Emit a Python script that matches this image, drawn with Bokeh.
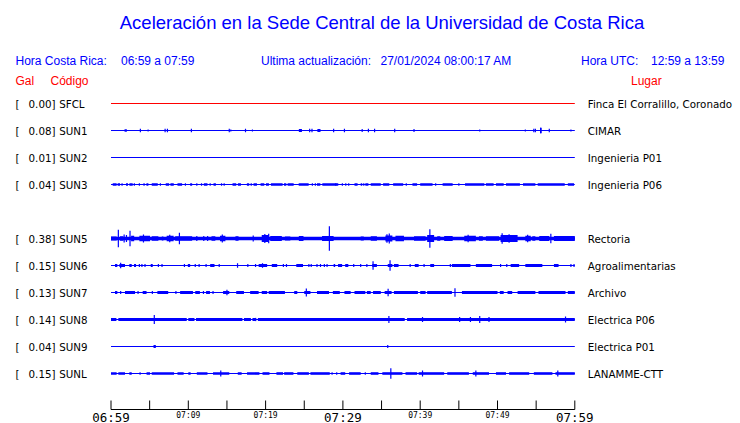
from bokeh.plotting import figure
from bokeh.models import Range1d
from bokeh.core.properties import value
from bokeh.embed import file_html
from bokeh.resources import INLINE

# ------------------------------------------------------------------ data
TITLE = "Aceleración en la Sede Central de la Universidad de Costa Rica"
HORA_CR = "06:59 a 07:59"
ACTUALIZACION = "27/01/2024 08:00:17 AM"
HORA_UTC = "12:59 a 13:59"

codes = ["SFCL", "SUN1", "SUN2", "SUN3", "SUN5", "SUN6", "SUN7", "SUN8", "SUN9", "SUNL"]
gal = [0.00, 0.08, 0.01, 0.04, 0.38, 0.15, 0.13, 0.14, 0.04, 0.15]
places = ["Finca El Corralillo, Coronado", "CIMAR", "Ingenieria P01", "Ingenieria P06",
          "Rectoria", "Agroalimentarias", "Archivo", "Electrica P06", "Electrica P01",
          "LANAMME-CTT"]
slots = [0, 1, 2, 3, 5, 6, 7, 8, 9, 10]          # row slot (SUN4 absent)
trace_colors = ["#ff0000"] + ["#0000ff"] * 9

tick_minutes = [0, 5, 10, 15, 20, 25, 30, 35, 40, 45, 50, 55, 60]
major_ticks = [0, 30, 60]
major_labels = ["06:59", "07:29", "07:59"]
minor_ticks = [10, 20, 40, 50]
minor_labels = ["07:09", "07:19", "07:39", "07:49"]

# bursts: (start minute, end minute, half amplitude); spikes: (minute, half amplitude)
sfcl_bursts = []
sfcl_spikes = []

sun1_bursts = [(1.75, 2.05, 1.3), (24.3, 24.7, 1.5), (26.7, 27.1, 1.5), (32.4, 32.6, 1.3),
               (39.1, 39.3, 1.3), (55.5, 55.7, 2.5)]
sun1_spikes = [(3.8, 1.7), (4.8, 1.0), (7.0, 1.7), (7.3, 1.7), (10.4, 1.7), (15.3, 1.7),
               (15.5, 1.0), (17.4, 1.7), (18.3, 1.0), (25.7, 1.7), (26.0, 1.7), (28.8, 1.7),
               (30.2, 1.7), (33.3, 1.7), (34.1, 1.7), (36.7, 1.7), (47.7, 1.0), (53.6, 1.0),
               (54.7, 1.7), (54.9, 1.7), (55.6, 3.0), (56.7, 1.7), (59.5, 1.0)]

sun2_bursts = []
sun2_spikes = []

sun3_bursts = [(0.22, 0.73, 1.3), (0.86, 1.17, 1.3), (1.94, 2.20, 1.3), (2.38, 2.81, 1.3),
               (4.19, 4.36, 1.3), (4.58, 4.84, 1.3), (5.27, 6.05, 1.3), (7.08, 7.52, 1.3),
               (7.69, 8.12, 1.3), (8.60, 9.20, 1.3), (10.24, 10.50, 1.3), (12.01, 12.48, 1.3),
               (13.26, 13.57, 1.3), (15.72, 16.20, 1.3), (16.42, 16.81, 1.3), (17.58, 17.88, 1.3),
               (18.44, 18.88, 1.3), (19.35, 19.83, 1.3), (20.05, 20.43, 1.3), (20.69, 22.20, 1.3),
               (22.38, 22.68, 1.3), (22.85, 23.63, 1.3), (24.28, 25.57, 1.3), (26.65, 27.08, 1.3),
               (27.34, 29.16, 1.3), (29.0, 29.4, 1.3), (31.5, 31.9, 1.3), (32.3, 32.5, 1.3),
               (32.9, 33.3, 1.3), (33.6, 34.9, 1.3), (35.2, 36.0, 1.3), (36.5, 37.8, 1.3),
               (39.0, 39.6, 1.3), (40.0, 41.6, 1.3), (42.9, 44.2, 1.3), (45.8, 48.3, 1.3),
               (48.5, 49.5, 1.3), (49.8, 50.8, 1.3), (51.1, 52.9, 1.3), (53.3, 54.9, 1.3),
               (55.2, 58.7, 1.3), (59.1, 59.9, 1.3)]
sun3_spikes = [(1.43, 1.3), (3.02, 1.3), (3.67, 1.3), (6.39, 1.3), (9.63, 1.3), (11.10, 1.3),
               (11.71, 1.3), (12.83, 1.3), (14.30, 1.3), (14.64, 1.3), (18.14, 1.3), (26.05, 1.3),
               (26.44, 1.3), (29.93, 1.3), (30.37, 1.3), (30.75, 1.3), (32.7, 1.3), (38.2, 1.3),
               (42.0, 1.3), (45.0, 1.3)]

sun5_bursts = [(0.0, 60.0, 1.7), (0.0, 0.73, 2.0), (1.17, 1.6, 2.2), (2.6, 3.0, 2.8),
               (3.67, 5.05, 2.8), (5.27, 6.13, 2.2), (6.57, 6.78, 2.0), (7.2, 8.1, 2.8),
               (8.3, 10.5, 2.2), (13.0, 13.5, 2.2), (14.1, 14.8, 2.8), (16.1, 16.5, 2.2),
               (19.5, 20.4, 3.4), (20.6, 22.1, 2.5), (22.5, 23.2, 2.0), (24.3, 24.9, 2.5),
               (27.3, 28.8, 2.5), (32.3, 32.7, 2.0), (33.6, 34.4, 2.2), (35.5, 36.4, 3.1),
               (36.8, 37.9, 2.8), (39.2, 40.7, 2.2), (40.9, 41.8, 3.4), (42.2, 42.6, 2.2),
               (43.1, 44.2, 2.5), (45.7, 47.2, 2.8), (47.6, 48.1, 2.2), (48.5, 50.2, 2.2),
               (50.4, 52.6, 3.4), (53.6, 54.3, 2.8), (54.5, 54.9, 2.2), (55.4, 56.7, 2.5),
               (57.3, 60.0, 2.5)]
sun5_spikes = [(0.95, 8.8), (2.46, 7.7), (1.7, 4.0), (2.0, 3.5), (8.85, 5.7), (11.1, 2.5),
               (12.0, 2.5), (12.5, 2.5), (18.4, 3.0), (20.4, 4.7), (28.25, 12.3), (36.0, 5.0),
               (41.25, 9.3), (50.6, 5.3), (56.9, 4.7), (4.2, 4.0), (7.6, 3.8), (14.4, 4.0),
               (19.9, 4.5), (35.7, 4.2), (46.2, 3.8), (51.5, 4.3), (53.9, 3.8)]

sun6_bursts = [(0.52, 0.82, 1.5), (1.08, 1.81, 1.5), (2.37, 2.68, 1.5), (2.98, 3.24, 1.5),
               (5.14, 5.4, 1.5), (9.94, 10.24, 1.5), (12.83, 13.39, 1.5), (19.1, 20.2, 1.5),
               (20.8, 21.5, 1.5), (23.97, 24.84, 1.5), (28.8, 29.0, 1.5), (29.5, 29.9, 1.5),
               (30.3, 30.7, 1.5), (33.8, 34.4, 1.5), (35.8, 36.4, 1.5), (36.6, 37.2, 1.5),
               (39.3, 39.8, 1.5), (41.3, 41.8, 1.5), (44.1, 46.5, 1.5), (47.2, 49.3, 1.5),
               (51.7, 52.8, 1.5), (53.6, 55.8, 1.5), (57.3, 57.9, 1.5)]
sun6_spikes = [(3.67, 1.5), (4.0, 1.5), (4.4, 1.5), (6.13, 1.5), (6.6, 1.5), (9.5, 1.5),
               (10.9, 1.5), (11.4, 1.5), (12.3, 1.5), (14.0, 1.5), (17.7, 1.5), (18.7, 1.5),
               (22.3, 1.5), (22.7, 1.5), (25.6, 1.5), (25.9, 1.5), (26.65, 1.5), (27.1, 1.5),
               (27.6, 1.5), (27.95, 1.5), (29.45, 1.5), (31.4, 1.5), (32.3, 1.5), (33.1, 1.5),
               (38.7, 1.5), (40.5, 1.5), (43.9, 1.5), (50.4, 1.5), (51.2, 1.5), (59.5, 1.5),
               (59.9, 1.5), (1.25, 2.7), (16.37, 2.3), (19.6, 2.3), (33.9, 4.3), (36.1, 5.3)]

sun7_bursts = [(0.52, 0.82, 1.5), (1.81, 3.11, 1.5), (4.1, 4.6, 1.5), (6.0, 7.4, 1.5),
               (8.94, 10.6, 1.5), (10.9, 11.5, 1.5), (12.3, 12.8, 1.5), (14.5, 15.3, 1.5),
               (16.2, 17.2, 1.5), (18.0, 19.1, 1.5), (19.5, 20.2, 1.5), (20.4, 22.5, 1.5),
               (23.7, 24.1, 1.5), (25.0, 25.8, 1.5), (26.65, 28.2, 1.5), (28.7, 29.6, 1.5),
               (30.2, 31.0, 1.5), (31.5, 32.9, 1.5), (33.1, 33.6, 1.5), (33.9, 34.9, 1.5),
               (35.4, 36.3, 1.5), (36.6, 39.7, 1.5), (40.0, 40.7, 1.5), (40.9, 44.1, 1.5),
               (45.4, 50.0, 1.5), (50.3, 50.8, 1.5), (51.3, 51.9, 1.5), (52.6, 54.9, 1.5),
               (55.3, 58.8, 1.5), (59.1, 60.0, 1.5)]
sun7_spikes = [(1.25, 1.5), (3.5, 1.5), (5.35, 1.5), (8.4, 1.5), (11.96, 1.5), (13.2, 1.5),
               (15.0, 2.7), (25.27, 4.0), (35.85, 3.7), (44.5, 4.2)]

sun8_bursts = [(0.0, 0.7, 1.6), (0.95, 9.8, 1.6), (10.0, 10.8, 1.6), (11.0, 17.0, 1.6),
               (17.2, 18.1, 1.6), (18.3, 18.8, 1.6), (19.0, 38.0, 1.6), (38.3, 60.0, 1.6)]
sun8_spikes = [(5.6, 4.5), (35.95, 3.5), (40.3, 2.5), (45.1, 2.5), (46.5, 2.5), (47.7, 3.5),
               (48.9, 2.5), (58.8, 3.0)]

sun9_bursts = [(5.5, 5.8, 1.5)]
sun9_spikes = [(35.8, 1.5)]

sunl_bursts = [(0.0, 0.73, 1.3), (0.95, 1.81, 1.3), (2.37, 2.68, 1.3), (4.6, 5.05, 1.3),
               (5.27, 8.16, 1.3), (8.6, 9.4, 1.3), (10.0, 10.3, 1.3), (11.1, 12.48, 1.3),
               (13.2, 15.3, 1.3), (16.4, 16.9, 1.3), (17.6, 19.2, 1.3), (19.6, 20.5, 1.3),
               (21.4, 22.25, 1.3), (22.4, 23.6, 1.3), (24.1, 25.6, 1.3), (25.8, 28.3, 1.3),
               (29.7, 30.3, 1.3), (30.8, 32.3, 1.3), (33.6, 34.6, 1.3), (35.1, 37.7, 1.3),
               (38.1, 39.6, 1.3), (39.8, 43.1, 1.3), (43.5, 46.3, 1.3), (46.8, 48.9, 1.3),
               (49.8, 51.1, 1.3), (51.5, 54.1, 1.3), (54.7, 57.1, 1.3), (57.5, 60.0, 1.3)]
sunl_spikes = [(3.76, 1.3), (28.6, 1.3), (29.2, 1.3), (32.9, 1.3), (14.2, 3.0), (36.2, 5.3),
               (40.3, 3.0), (47.2, 3.0), (57.8, 3.0)]

station_bursts = [sfcl_bursts, sun1_bursts, sun2_bursts, sun3_bursts, sun5_bursts,
                  sun6_bursts, sun7_bursts, sun8_bursts, sun9_bursts, sunl_bursts]
station_spikes = [sfcl_spikes, sun1_spikes, sun2_spikes, sun3_spikes, sun5_spikes,
                  sun6_spikes, sun7_spikes, sun8_spikes, sun9_spikes, sunl_spikes]

# ------------------------------------------------------------------ layout
W, H = 740, 423
X0_PX, X1_PX = 110.5, 574.3      # canvas px of minute 0 and minute 60
ROW0, ROW_STEP = 103, 27         # canvas y of first row, row spacing
AXIS_Y, TICK_LEN = 409, 9
PPM = (X1_PX - X0_PX) / 60.0


def px2x(px):
    return (px - X0_PX) / PPM


p = figure(width=W, height=H, output_backend="svg", toolbar_location=None,
           x_range=Range1d(px2x(0), px2x(W)), y_range=Range1d(H, 0),
           x_axis_location=None, y_axis_location=None, min_border=0)
p.grid.visible = False
p.outline_line_color = None
p.background_fill_color = "white"
p.border_fill_color = "white"

BLUE = "#0000ff"
RED = "#ff0000"
SANS = value("Liberation Sans")
DJ = value("DejaVu Sans")
MONO = value("DejaVu Sans Mono")

# title and header
p.text(x=[px2x(381.5)], y=[21.5], text=[TITLE], text_align="center",
       text_baseline="middle", text_font=SANS, text_font_size=value("18.5px"),
       text_color=BLUE)
p.text(x=[px2x(15), px2x(120.5), px2x(260.5), px2x(380), px2x(580.5), px2x(650.5)],
       y=[60.5] * 6,
       text=["Hora Costa Rica:", HORA_CR, "Ultima actualización:", ACTUALIZACION,
             "Hora UTC:", HORA_UTC],
       text_align="left", text_baseline="middle", text_font=SANS,
       text_font_size=value("12px"), text_color=BLUE)
p.text(x=[px2x(15), px2x(50), px2x(630.5)], y=[80.5] * 3, text=["Gal", "Código", "Lugar"],
       text_align="left", text_baseline="middle", text_font=SANS,
       text_font_size=value("12px"), text_color=RED)

# traces
for i, slot in enumerate(slots):
    yc = ROW0 + ROW_STEP * slot
    col = trace_colors[i]
    p.segment(x0=[0], y0=[yc], x1=[60], y1=[yc], line_color=col, line_width=1)
    b = station_bursts[i]
    if b:
        p.quad(left=[t[0] for t in b], right=[t[1] for t in b],
               bottom=[yc + t[2] for t in b], top=[yc - t[2] for t in b],
               fill_color=col, line_color=None)
    s = station_spikes[i]
    if s:
        p.segment(x0=[t[0] for t in s], x1=[t[0] for t in s],
                  y0=[yc - t[1] for t in s], y1=[yc + t[1] for t in s],
                  line_color=col, line_width=1.2)

# row labels
row_y = [ROW0 + ROW_STEP * s + 0.5 for s in slots]
p.text(x=[px2x(15)] * len(codes), y=row_y, text=["["] * len(codes), text_align="left",
       text_baseline="middle", text_font=DJ, text_font_size=value("10.3px"),
       text_color="black")
p.text(x=[px2x(55)] * len(codes), y=row_y, text=[f"{g:.2f}]" for g in gal],
       text_align="right", text_baseline="middle", text_font=DJ,
       text_font_size=value("10.3px"), text_color="black")
p.text(x=[px2x(58.7)] * len(codes), y=row_y, text=codes, text_align="left",
       text_baseline="middle", text_font=DJ, text_font_size=value("10.3px"),
       text_color="black")
p.text(x=[px2x(587.3)] * len(codes), y=row_y, text=places, text_align="left",
       text_baseline="middle", text_font=DJ, text_font_size=value("10.3px"),
       text_color="black")

# time axis
p.segment(x0=[0], y0=[AXIS_Y], x1=[60], y1=[AXIS_Y], line_color="black", line_width=1)
p.segment(x0=tick_minutes, x1=tick_minutes, y0=[AXIS_Y] * len(tick_minutes),
          y1=[AXIS_Y - TICK_LEN] * len(tick_minutes), line_color="black", line_width=1)
p.text(x=major_ticks, y=[416.5] * 3, text=major_labels, text_align="center",
       text_baseline="middle", text_font=MONO, text_font_size=value("12.5px"),
       text_color="black")
p.text(x=minor_ticks, y=[414.5] * 4, text=minor_labels, text_align="center",
       text_baseline="middle", text_font=MONO, text_font_size=value("8px"),
       text_color="black")

open("out.html", "w").write(file_html(p, INLINE))
